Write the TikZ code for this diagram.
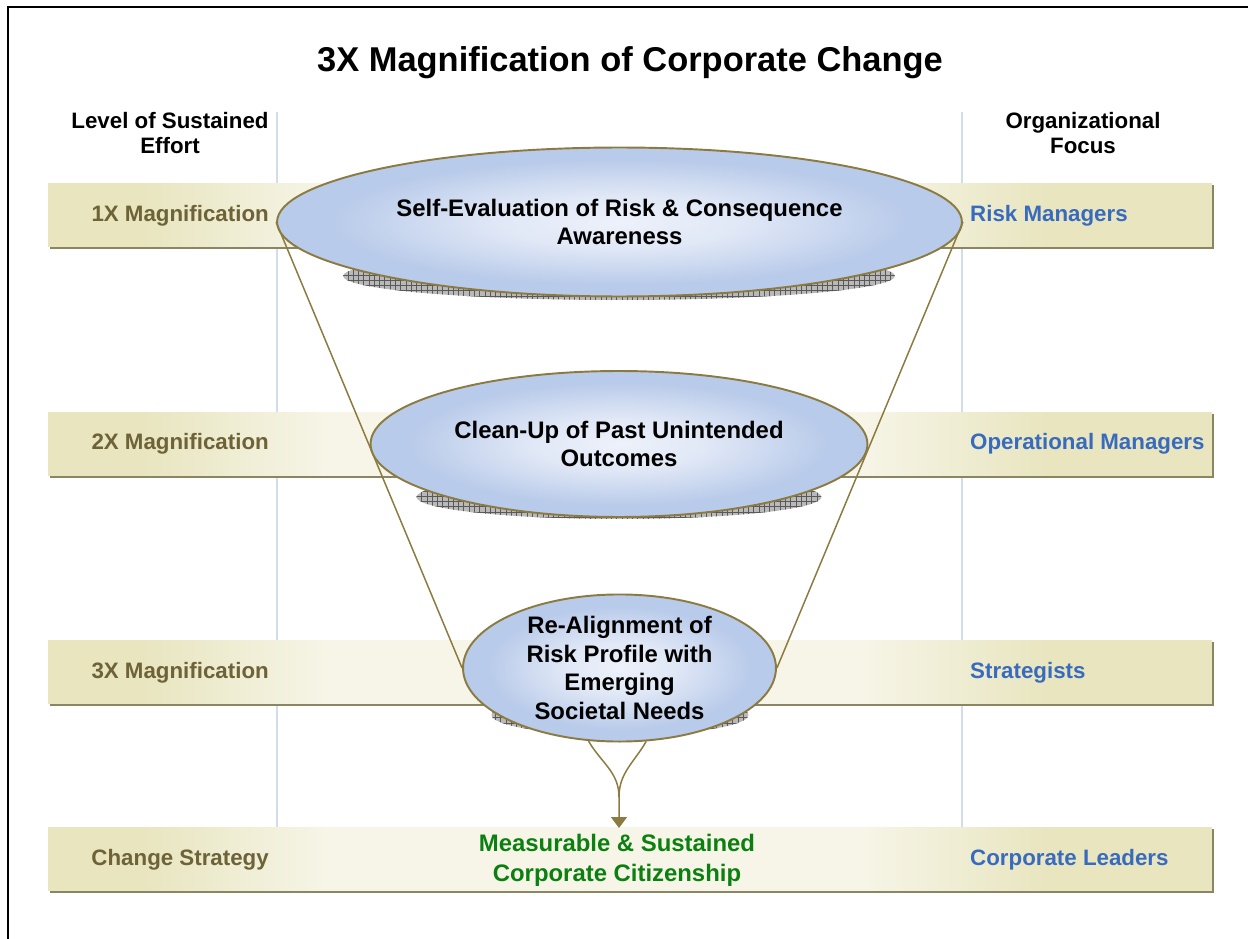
\documentclass[tikz,border=0pt]{standalone}
\usepackage{fontspec}
\setmainfont{Liberation Sans}
\usetikzlibrary{shapes.geometric}
\usetikzlibrary{arrows.meta}
\usetikzlibrary{shadows}
\usetikzlibrary{patterns}

\definecolor{bandcol}{HTML}{E8E5BF}
\definecolor{bandlight}{HTML}{F6F5E7}
\definecolor{bandshadow}{HTML}{8A8562}
\definecolor{funnelcol}{HTML}{8C7B41}
\definecolor{ovalout}{HTML}{B9CBEA}
\definecolor{ovalin}{HTML}{EDF1FA}
\definecolor{levelcol}{HTML}{6E6238}
\definecolor{focuscol}{HTML}{386BBE}
\definecolor{goalcol}{HTML}{0B8010}
\definecolor{guidecol}{HTML}{D3DCEC}

% light in the middle, olive towards both ends
\pgfdeclarehorizontalshading{bandshade}{100bp}{color(0bp)=(bandcol); color(29bp)=(bandcol); color(37bp)=(bandlight); color(60bp)=(bandlight); color(68bp)=(bandcol); color(100bp)=(bandcol)}
% pale core, blue rim
\pgfdeclareradialshading{ovalshade}{\pgfpoint{0bp}{0bp}}{color(0bp)=(ovalin); color(9bp)=(ovalin!75!ovalout); color(21bp)=(ovalout); color(50bp)=(ovalout)}

\tikzset{
    band/.style = {rectangle, minimum width = 23.28cm, minimum height = 1.28cm, inner sep = 0pt,
        shading = bandshade, drop shadow = {shadow xshift = 1.2pt, shadow yshift = -1.2pt, fill = bandshadow, opacity = 1}},
    oval/.style = {ellipse, inner sep = 0pt, draw = funnelcol, line width = 1.1pt,
        shading = ovalshade, align = center,
        font = \fontsize{13.6}{16.4}\selectfont\bfseries},
    ovalshadow/.style = {ellipse, inner sep = 0pt, preaction = {fill = gray!55},
        pattern = grid, pattern color = gray!70!black},
    level/.style = {anchor = east, text = levelcol, font = \fontsize{12.7}{15}\selectfont\bfseries},
    focus/.style = {anchor = west, text = focuscol, font = \fontsize{12.7}{15}\selectfont\bfseries},
    header/.style = {align = center, font = \fontsize{12.7}{14.7}\selectfont\bfseries},
    funnel/.style = {draw = funnelcol, line width = 0.85pt},
    guide/.style = {draw = guidecol, line width = 0.6pt}
}

\begin{document}
\begin{tikzpicture}[x = 0.02cm, y = -0.02cm]
    \useasboundingbox (0, 0) rectangle (1248, 939);
    \draw[line width = 0.9pt] (8, 939) -- (8, 7) -- (1248, 7);

    \node[font = \fontsize{19.6}{23}\selectfont\bfseries] (title) at (630, 63) {3X Magnification of Corporate Change};
    \node[header] (efforthead) at (170, 133) {Level of Sustained\\Effort};
    \node[header] (focushead) at (1083, 133) {Organizational\\Focus};

    % column guides
    \draw[guide] (277, 112) -- (277, 827);
    \draw[guide] (962, 112) -- (962, 827);

    % the four levels
    \node[band] (band1) at (630, 215) {};
    \node[band] (band2) at (630, 444) {};
    \node[band] (band3) at (630, 672) {};
    \node[band] (band4) at (630, 859) {};

    \node[level] (lvl1) at (275, 216) {1X Magnification};
    \node[level] (lvl2) at (275, 444) {2X Magnification};
    \node[level] (lvl3) at (275, 673) {3X Magnification};
    \node[level] (lvl4) at (275, 860) {Change Strategy};

    \node[focus] (foc1) at (964, 216) {Risk Managers};
    \node[focus] (foc2) at (964, 444) {Operational Managers};
    \node[focus] (foc3) at (964, 673) {Strategists};
    \node[focus] (foc4) at (964, 860) {Corporate Leaders};

    % funnel stages
    \node[ovalshadow, minimum width = 11.04cm, minimum height = 0.96cm] (e1shadow) at (619, 276) {};
    \node[oval, minimum width = 13.7cm, minimum height = 2.98cm] (e1) at (619.5, 222)
        {Self-Evaluation of Risk \& Consequence\\Awareness};
    \node[ovalshadow, minimum width = 8.1cm, minimum height = 0.88cm] (e2shadow) at (619, 497) {};
    \node[oval, minimum width = 9.94cm, minimum height = 2.92cm] (e2) at (619, 444)
        {Clean-Up of Past Unintended\\Outcomes};
    \node[ovalshadow, minimum width = 5.14cm, minimum height = 0.8cm] (e3shadow) at (620, 715) {};
    \node[oval, minimum width = 6.26cm, minimum height = 2.74cm] (e3) at (619.5, 668)
        {Re-Alignment of\\Risk Profile with\\Emerging\\Societal Needs};

    \draw[funnel] (e1.west) -- (e3.west);
    \draw[funnel] (e1.east) -- (e3.east);

    \coordinate (merge) at (619, 797);
    \coordinate (tip) at (619, 828);
    \draw[funnel, -{Triangle[width = 0.32cm, length = 0.22cm]}] (e3.-113) to[out = -60, in = 90] (merge) -- (tip);
    \draw[funnel] (e3.-70) to[out = -120, in = 90] (merge);

    \node[align = center, text = goalcol, font = \fontsize{13.6}{17}\selectfont\bfseries] (goal) at (617, 860)
        {Measurable \& Sustained\\Corporate Citizenship};
\end{tikzpicture}
\end{document}
